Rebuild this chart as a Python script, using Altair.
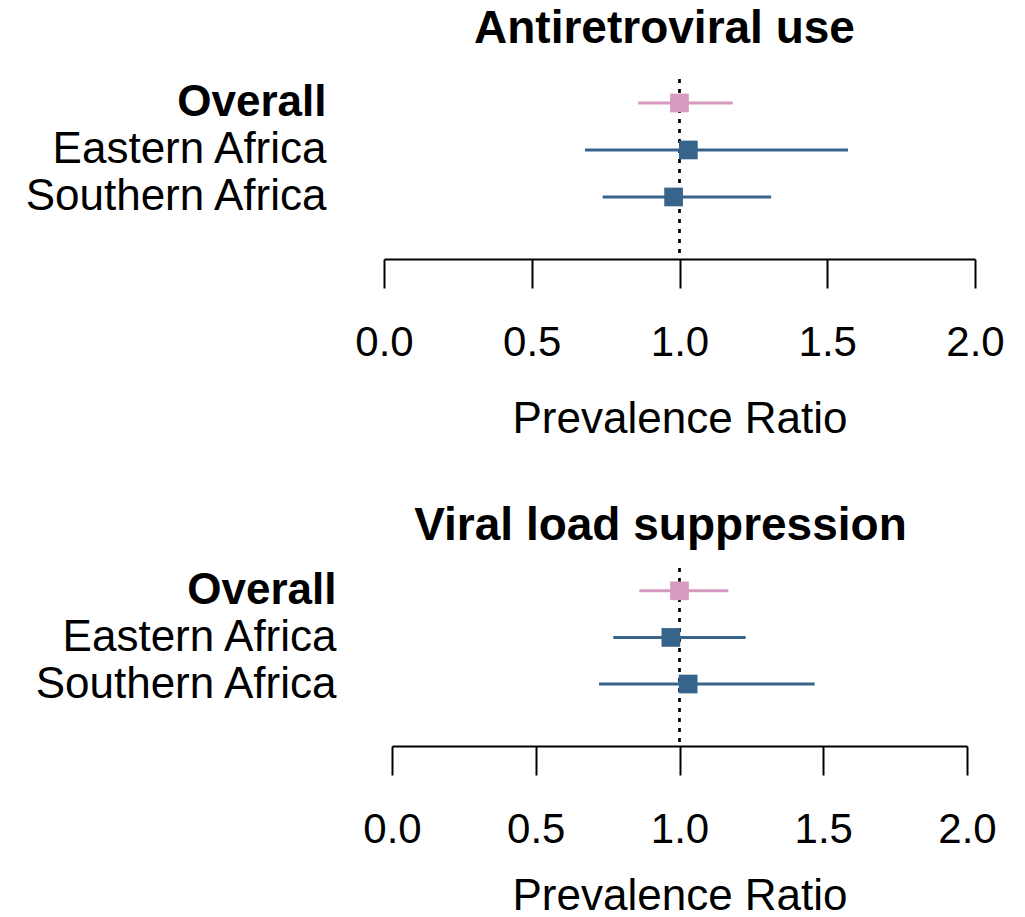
import altair as alt
import pandas as pd

FONT = "Liberation Sans"

categories = ["Overall", "Eastern Africa", "Southern Africa"]
groups = ["Overall", "Region", "Region"]

# Antiretroviral use
arv_est = [1.00, 1.03, 0.98]
arv_lo = [0.86, 0.68, 0.74]
arv_hi = [1.18, 1.57, 1.31]

# Viral load suppression
vls_est = [1.00, 0.97, 1.03]
vls_lo = [0.86, 0.77, 0.72]
vls_hi = [1.17, 1.23, 1.47]

ticks_x = [0.0, 0.5, 1.0, 1.5, 2.0]
ref_value = [1.0]

PINK = "#D69AC0"
BLUE = "#36648B"


def make_df(est, lo, hi):
    n = len(categories)
    return pd.DataFrame({
        "cat": categories,
        "pos": [n - i for i in range(n)],
        "grp": groups,
        "est": est,
        "lo": lo,
        "hi": hi,
    })


label_expr = " : ".join(
    [f"datum.value == {len(categories) - i} ? '{c}'" for i, c in enumerate(categories[:-1])]
) + f" : '{categories[-1]}'"


def panel(df, title, width, height, xrange, ydomain, ylabelpad, title_offset, xtitlepad):
    xscale = alt.Scale(domain=[0, 2], nice=False, zero=False, range=xrange)
    yscale = alt.Scale(domain=ydomain, nice=False, zero=False)
    xaxis = alt.Axis(
        values=ticks_x, format=".1f", title="Prevalence Ratio",
        tickSize=29, tickWidth=2, tickColor="black",
        domainWidth=2, domainColor="black", grid=False,
        labelFontSize=42, labelFont=FONT, labelColor="black",
        labelPadding=34, labelFlush=False, labelOverlap=False,
        titleFontSize=44, titleFont=FONT, titleFontWeight="normal",
        titleColor="black", titlePadding=xtitlepad,
    )
    yaxis = alt.Axis(
        values=list(range(1, len(categories) + 1)), labelExpr=label_expr,
        title=None, domain=False, ticks=False, grid=False,
        labelFontSize=44, labelFont=FONT, labelColor="black",
        labelFontWeight={"condition": {"test": f"datum.value == {len(categories)}", "value": "bold"}, "value": "normal"},
        labelPadding=ylabelpad, labelOverlap=False, labelBound=False, labelLimit=600,
    )
    color = alt.Color("grp:N", scale=alt.Scale(domain=["Overall", "Region"], range=[PINK, BLUE]), legend=None)

    ref = alt.Chart(pd.DataFrame({"v": ref_value})).mark_rule(
        color="black", strokeWidth=2.7, strokeDash=[4, 6]
    ).encode(x=alt.X("v:Q", scale=xscale, axis=xaxis))

    bars = alt.Chart(df).mark_rule(strokeWidth=3).encode(
        x=alt.X("lo:Q", scale=xscale, axis=xaxis),
        x2="hi:Q",
        y=alt.Y("pos:Q", scale=yscale, axis=yaxis),
        color=color,
    )
    pts = alt.Chart(df).mark_point(shape="square", filled=True, size=350, opacity=1).encode(
        x=alt.X("est:Q", scale=xscale, axis=xaxis),
        y=alt.Y("pos:Q", scale=yscale, axis=yaxis),
        color=color,
    )
    return alt.layer(ref, bars, pts).properties(
        width=width, height=height,
        title=alt.TitleParams(title, fontSize=46, font=FONT, fontWeight="bold",
                              color="black", anchor="middle", dx=-15, offset=title_offset),
    )


top = panel(make_df(arv_est, arv_lo, arv_hi), "Antiretroviral use", 591, 180,
            [0, 591], [-0.32, 3.51], 58, 25, 34)
bottom = panel(make_df(vls_est, vls_lo, vls_hi), "Viral load suppression", 583, 178,
               [8, 583], [-0.33, 3.49], 48, 17, 24)

chart = alt.vconcat(top, bottom, spacing=61).properties(
    padding={"left": 22, "top": 5, "right": 5, "bottom": 0}
).configure(background="white").configure_view(strokeWidth=0, stroke="transparent")

chart.save("out.html", embed_options={"renderer": "svg", "actions": False})
